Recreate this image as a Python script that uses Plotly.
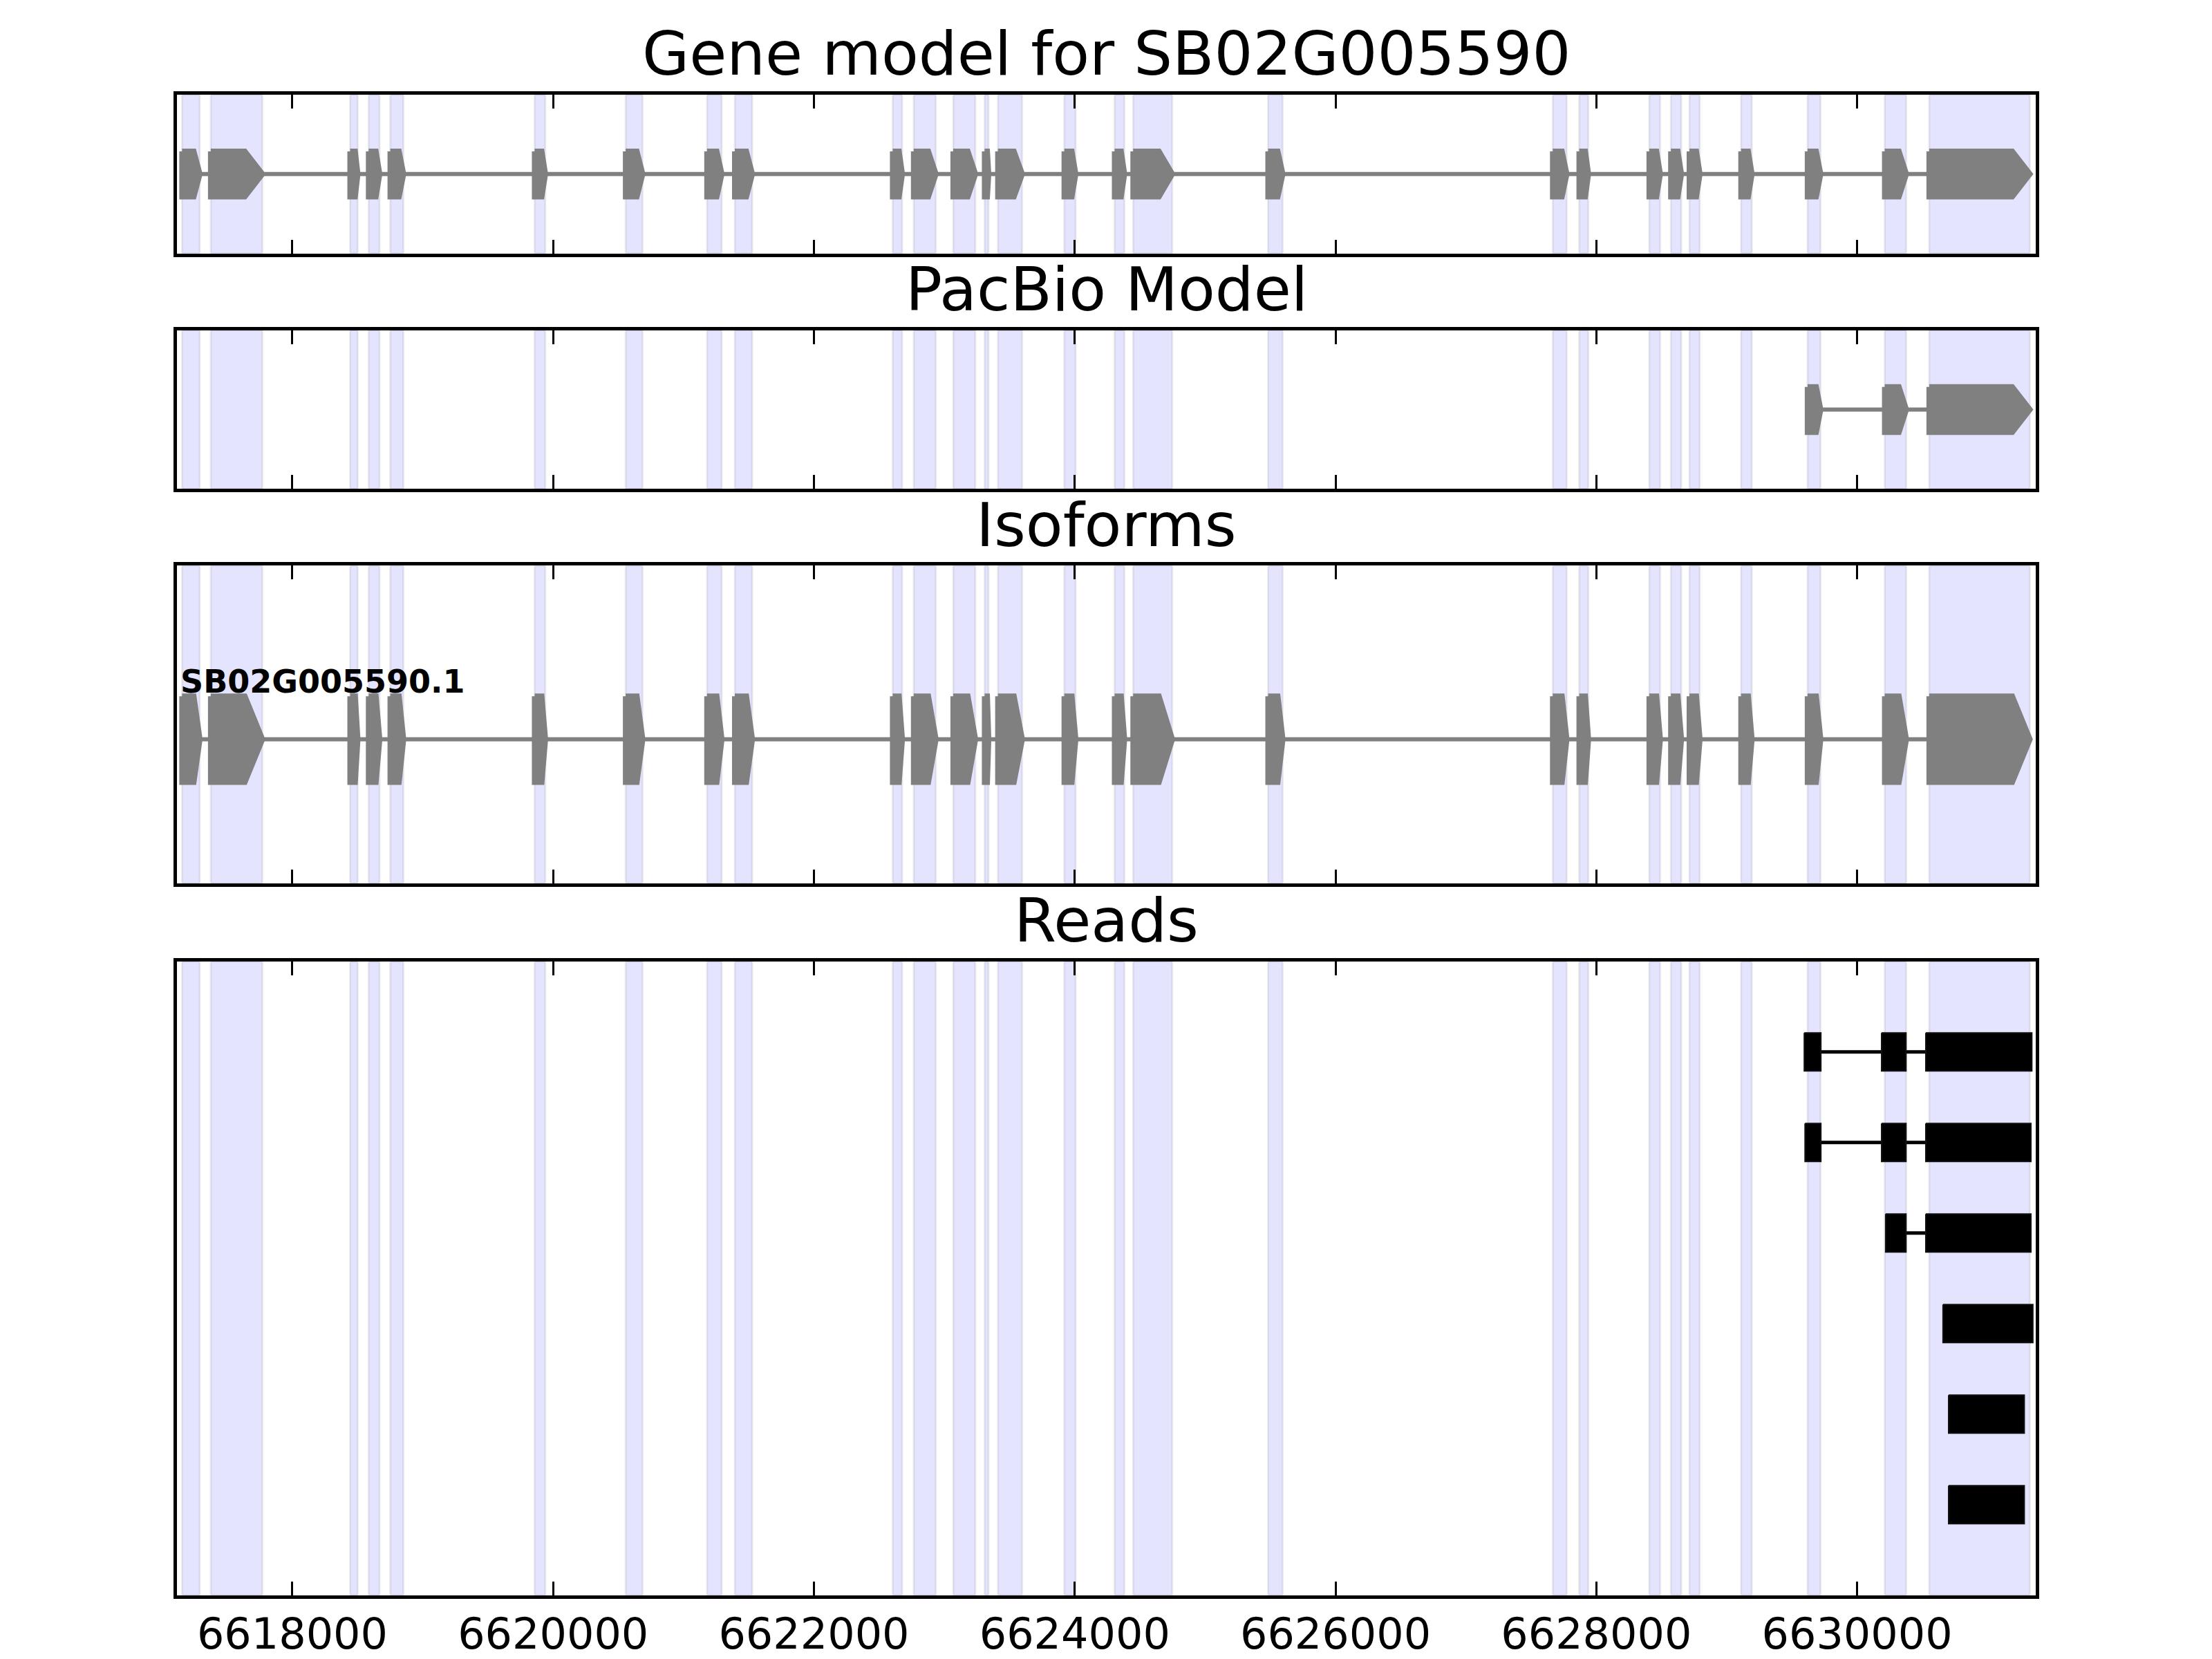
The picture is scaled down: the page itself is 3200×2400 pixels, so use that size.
import plotly.graph_objects as go

# ---------------- data ----------------
x_min, x_max = 6617115, 6631370
tick_values = [6618000, 6620000, 6622000, 6624000, 6626000, 6628000, 6630000]
tick_labels = [str(v) for v in tick_values]

gene_title = "Gene model for SB02G005590"
panel_titles = ["PacBio Model", "Isoforms", "Reads"]
isoform_name = "SB02G005590.1"

exon_starts = [6617154, 6617374, 6618443, 6618585, 6618751, 6619858, 6620556,
               6621180, 6621393, 6622604, 6622765, 6623068, 6623309, 6623411,
               6623920, 6624306, 6624448, 6625483, 6627666, 6627869, 6628406,
               6628572, 6628714, 6629110, 6629620, 6630212, 6630553]
exon_ends = [6617290, 6617770, 6618501, 6618669, 6618852, 6619940, 6620686,
             6621293, 6621527, 6622677, 6622935, 6623238, 6623339, 6623597,
             6624007, 6624381, 6624748, 6625595, 6627773, 6627939, 6628490,
             6628652, 6628794, 6629193, 6629720, 6630377, 6631325]

pacbio_starts = [6629620, 6630212, 6630553]
pacbio_ends = [6629720, 6630377, 6631325]

isoform_starts = list(exon_starts)
isoform_ends = list(exon_ends)

read_block_starts = [
    [6629595, 6630188, 6630527],
    [6629601, 6630188, 6630527],
    [6630219, 6630527],
    [6630659],
    [6630702],
    [6630702],
]
read_block_ends = [
    [6629722, 6630375, 6631340],
    [6629722, 6630375, 6631333],
    [6630375, 6631333],
    [6631348],
    [6631282],
    [6631282],
]

# ---------------- layout geometry ----------------
W, H = 3200, 2400
left_px, right_px = 256, 2945
panels_px = [(138, 369.5), (481.5, 713), (825, 1288), (1402, 2326)]
y_ranges = [[-1.75, 1.75], [-1.75, 1.75], [-1.675, 2.017], [0, 7]]

GRAY = "#808080"
FONT = "DejaVu Sans"

fig = go.Figure()


def gene_traces(starts, ends, axis_suffix):
    xs, ys = [], []
    for s, e in zip(starts, ends):
        L = e - s
        h = min(0.34 * L, 135)
        xs += [s, e - h, e, e - h, s, s, None]
        ys += [0.5, 0.5, 0.0, -0.5, -0.5, 0.5, None]
    fig.add_trace(go.Scatter(
        x=[starts[0], ends[-1]], y=[0, 0], mode="lines",
        line=dict(color=GRAY, width=6), hoverinfo="skip", showlegend=False,
        xaxis="x" + axis_suffix, yaxis="y" + axis_suffix))
    fig.add_trace(go.Scatter(
        x=xs, y=ys, mode="lines", fill="toself", fillcolor=GRAY,
        line=dict(color=GRAY, width=8), hoverinfo="skip", showlegend=False,
        xaxis="x" + axis_suffix, yaxis="y" + axis_suffix))


gene_traces(exon_starts, exon_ends, "")
gene_traces(pacbio_starts, pacbio_ends, "2")
gene_traces(isoform_starts, isoform_ends, "3")

# reads
n_reads = len(read_block_starts)
lx, ly, bx, by = [], [], [], []
for i, (ss, ee) in enumerate(zip(read_block_starts, read_block_ends)):
    yc = n_reads - i
    if len(ss) > 1:
        lx += [ss[0], ee[-1], None]
        ly += [yc, yc, None]
    for s, e in zip(ss, ee):
        bx += [s, e, e, s, s, None]
        by += [yc + 0.21, yc + 0.21, yc - 0.21, yc - 0.21, yc + 0.21, None]
fig.add_trace(go.Scatter(x=lx, y=ly, mode="lines", line=dict(color="black", width=5),
                         hoverinfo="skip", showlegend=False, xaxis="x4", yaxis="y4"))
fig.add_trace(go.Scatter(x=bx, y=by, mode="lines", fill="toself", fillcolor="black",
                         line=dict(color="#111111", width=2), hoverinfo="skip",
                         showlegend=False, xaxis="x4", yaxis="y4"))

# shading spans on all panels
shapes = []
for k in range(4):
    suf = "" if k == 0 else str(k + 1)
    for s, e in zip(exon_starts, exon_ends):
        shapes.append(dict(type="rect", xref="x" + suf, yref="y" + suf + " domain",
                           x0=s, x1=e, y0=0, y1=1, layer="below",
                           fillcolor="rgba(0,0,255,0.105)",
                           line=dict(color="rgba(0,0,0,0.07)", width=3)))

# axes
layout = dict(width=W, height=H, autosize=False, margin=dict(l=0, r=0, t=0, b=0, pad=0),
              paper_bgcolor="white", plot_bgcolor="white", showlegend=False,
              shapes=shapes, font=dict(family=FONT, color="black"))
for k, ((top, bot), yr) in enumerate(zip(panels_px, y_ranges)):
    suf = "" if k == 0 else str(k + 1)
    layout["xaxis" + suf] = dict(
        domain=[left_px / W, right_px / W], range=[x_min, x_max],
        anchor="y" + suf, tickvals=tick_values, ticktext=tick_labels,
        ticks="inside", ticklen=20, tickwidth=2.5, tickcolor="black",
        showline=True, linewidth=5, linecolor="black", mirror="allticks",
        showgrid=False, zeroline=False, showticklabels=(k == 3),
        tickfont=dict(family=FONT, size=62, color="black"),
        ticklabelstandoff=-2, fixedrange=True)
    layout["yaxis" + suf] = dict(
        domain=[1 - bot / H, 1 - top / H], range=yr, anchor="x" + suf,
        showline=True, linewidth=5, linecolor="black", mirror=True,
        ticks="", showticklabels=False, showgrid=False, zeroline=False,
        fixedrange=True)

annotations = []
title_texts = [gene_title] + panel_titles
title_bottom_px = [132] + [p[0] - 6 for p in panels_px[1:]]
for txt, bpx in zip(title_texts, title_bottom_px):
    annotations.append(dict(text=txt, xref="paper", yref="paper",
                            x=(left_px + right_px) / 2 / W, y=1 - bpx / H,
                            xanchor="center", yanchor="bottom", showarrow=False,
                            font=dict(family=FONT, size=88, color="black")))
annotations.append(dict(text="<b>" + isoform_name + "</b>", xref="x3", yref="y3",
                        x=isoform_starts[0], y=0.5, xanchor="left", yanchor="bottom",
                        xshift=-4, yshift=-8, showarrow=False,
                        font=dict(family=FONT, size=46, color="black")))
layout["annotations"] = annotations
fig.update_layout(**layout)

fig.write_html("out.html", config={"responsive": False, "displayModeBar": False},
               post_script="document.body.style.margin='0';document.body.style.padding='0';")
